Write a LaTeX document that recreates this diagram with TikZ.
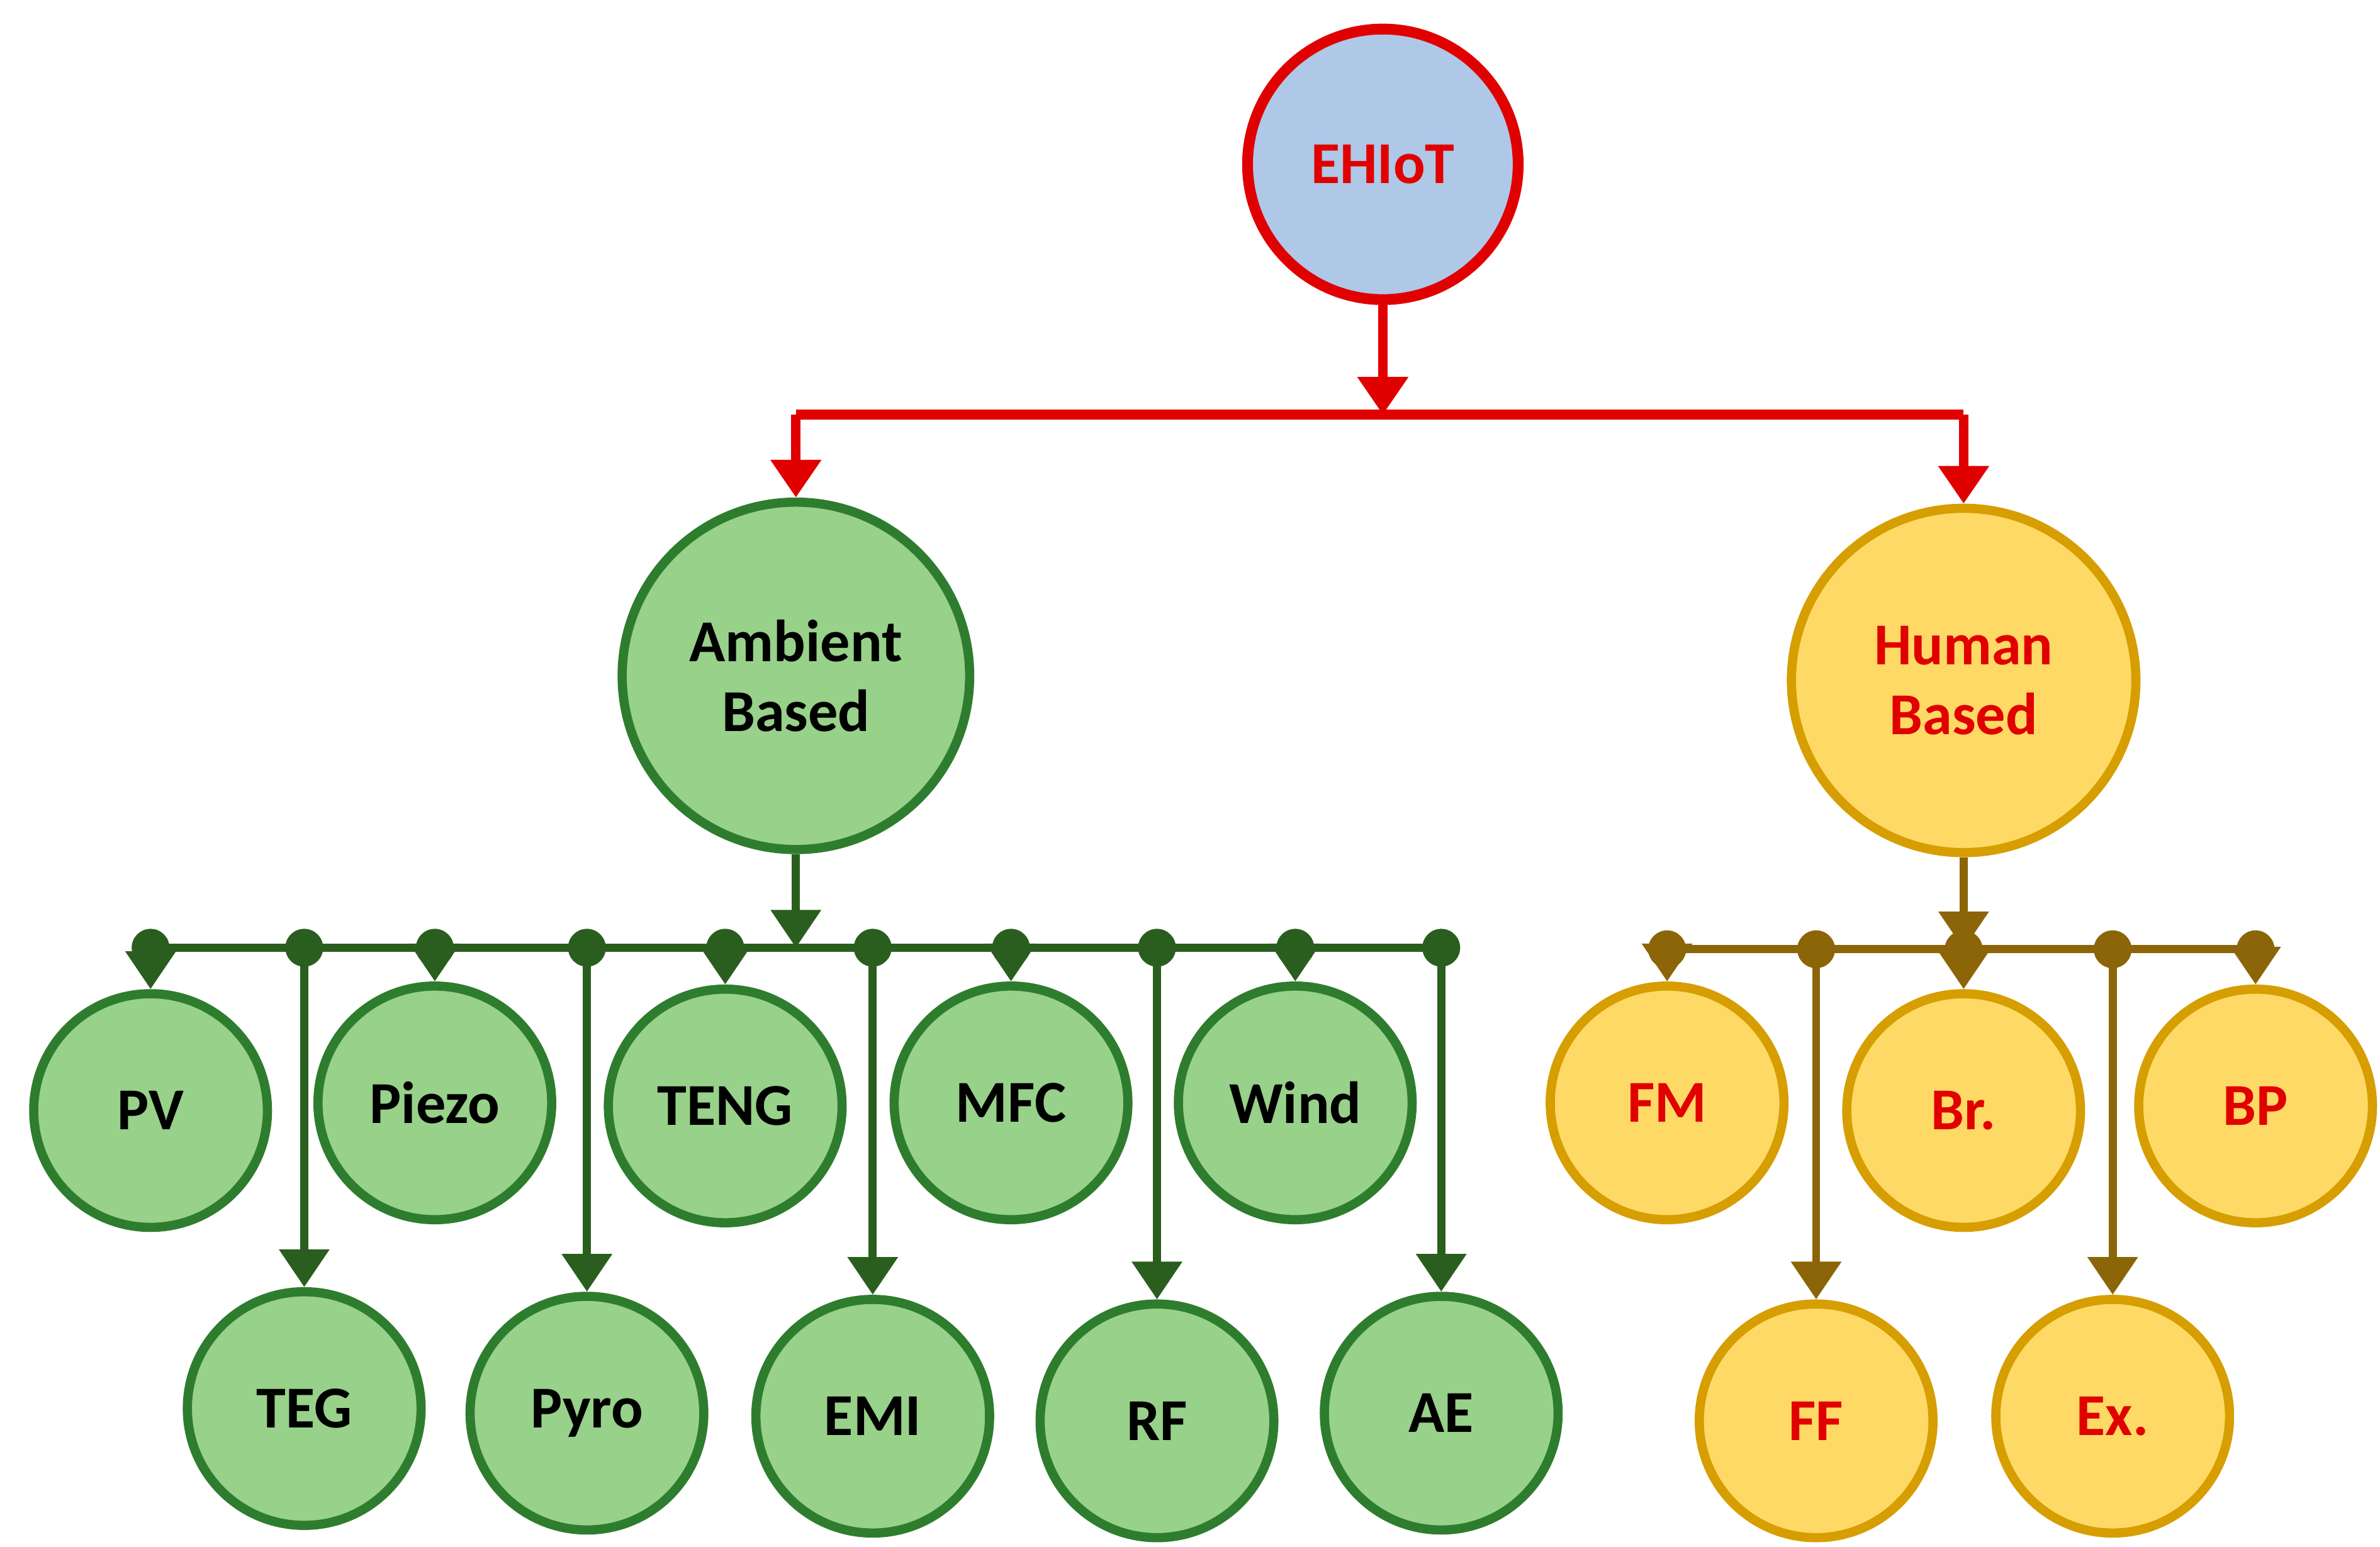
\documentclass[tikz,border=0pt]{standalone}
\usepackage{fontspec}
\setmainfont{Carlito}
\usetikzlibrary{arrows.meta}
\definecolor{rd}{HTML}{E00000}
\definecolor{blu}{HTML}{AFC8E8}
\definecolor{gf}{HTML}{98D18A}
\definecolor{gs}{HTML}{2E7D2E}
\definecolor{gl}{HTML}{2A5E1E}
\definecolor{yf}{HTML}{FFD966}
\definecolor{ys}{HTML}{D69E00}
\definecolor{br}{HTML}{8B6508}
\begin{document}
\begin{tikzpicture}[x=0.01cm,y=-0.01cm,
  every node/.style={font=\fontsize{11}{13}\selectfont\bfseries, align=center},
  c/.style={circle,line width=1.7pt,minimum size=#1*0.02cm,inner sep=0pt},
  green/.style={c=76,draw=gs,fill=gf,text=black},
  yel/.style={c=76,draw=ys,fill=yf,text=rd},
  tip/.style={-{Triangle[width=9pt,length=7pt]}},
  dot/.style={circle,fill=#1,inner sep=0pt,minimum size=7pt}]
\useasboundingbox (0,0) rectangle (1549,1007);
\node[c=88,draw=rd,fill=blu,text=rd,line width=2pt] (eh) at (900,107) {EHIoT};
\node[c=113,draw=gs,fill=gf,text=black] (amb) at (518,440) {Ambient\\Based};
\node[c=112,draw=ys,fill=yf,text=rd] (hum) at (1278,443) {Human\\Based};
% red
\coordinate (rj) at (900,270);
\coordinate (rl) at (518,270);
\coordinate (rr) at (1278,270);
\draw[rd,line width=1.8pt,tip] (eh.south) -- (rj);
\draw[rd,line width=1.8pt] (rl) -- (rr);
\draw[rd,line width=1.8pt,tip] (rl) -- (amb.north);
\draw[rd,line width=1.8pt,tip] (rr) -- (hum.north);
% green
\foreach \n/\t/\x/\y in {pv/PV/98/723,pz/Piezo/283/718,te/TENG/472/720,mf/MFC/658/718,wi/Wind/843/718,
 tg/TEG/198/917,py/Pyro/382/920,em/EMI/568/922,rf/RF/753/925,ae/AE/938/920}
  \node[green] (\n) at (\x,\y) {\t};
\coordinate (gl0) at (98,617); \coordinate (gr0) at (940,617);
\draw[gl,line width=1.5pt] (gl0) -- (gr0);
\coordinate (gj) at (518,617);
\draw[gl,line width=1.5pt,tip] (amb.south) -- (gj);
\foreach \n in {pv,pz,te,mf,wi,tg,py,em,rf,ae}{
  \path (\n.north |- gj) node[dot=gl] (d\n) {};
  \draw[gl,line width=1.5pt,tip] (d\n.center) -- (\n.north);}
% human
\foreach \n/\t/\x/\y in {fm/FM/1085/718,bb/Br./1278/723,bp/BP/1468/720,ff/FF/1182/925,ex/Ex./1375/922}
  \node[yel] (\n) at (\x,\y) {\t};
\coordinate (hj) at (1278,618);
\draw[br,line width=1.5pt] (1083,618) coordinate (hl) -- (1468,618) coordinate (hr);
\draw[br,line width=1.5pt,tip] (hum.south) -- (hj);
\foreach \n in {fm,bb,bp,ff,ex}{
  \path (\n.north |- hj) node[dot=br] (d\n) {};
  \draw[br,line width=1.5pt,tip] (d\n.center) -- (\n.north);}
\end{tikzpicture}
\end{document}
